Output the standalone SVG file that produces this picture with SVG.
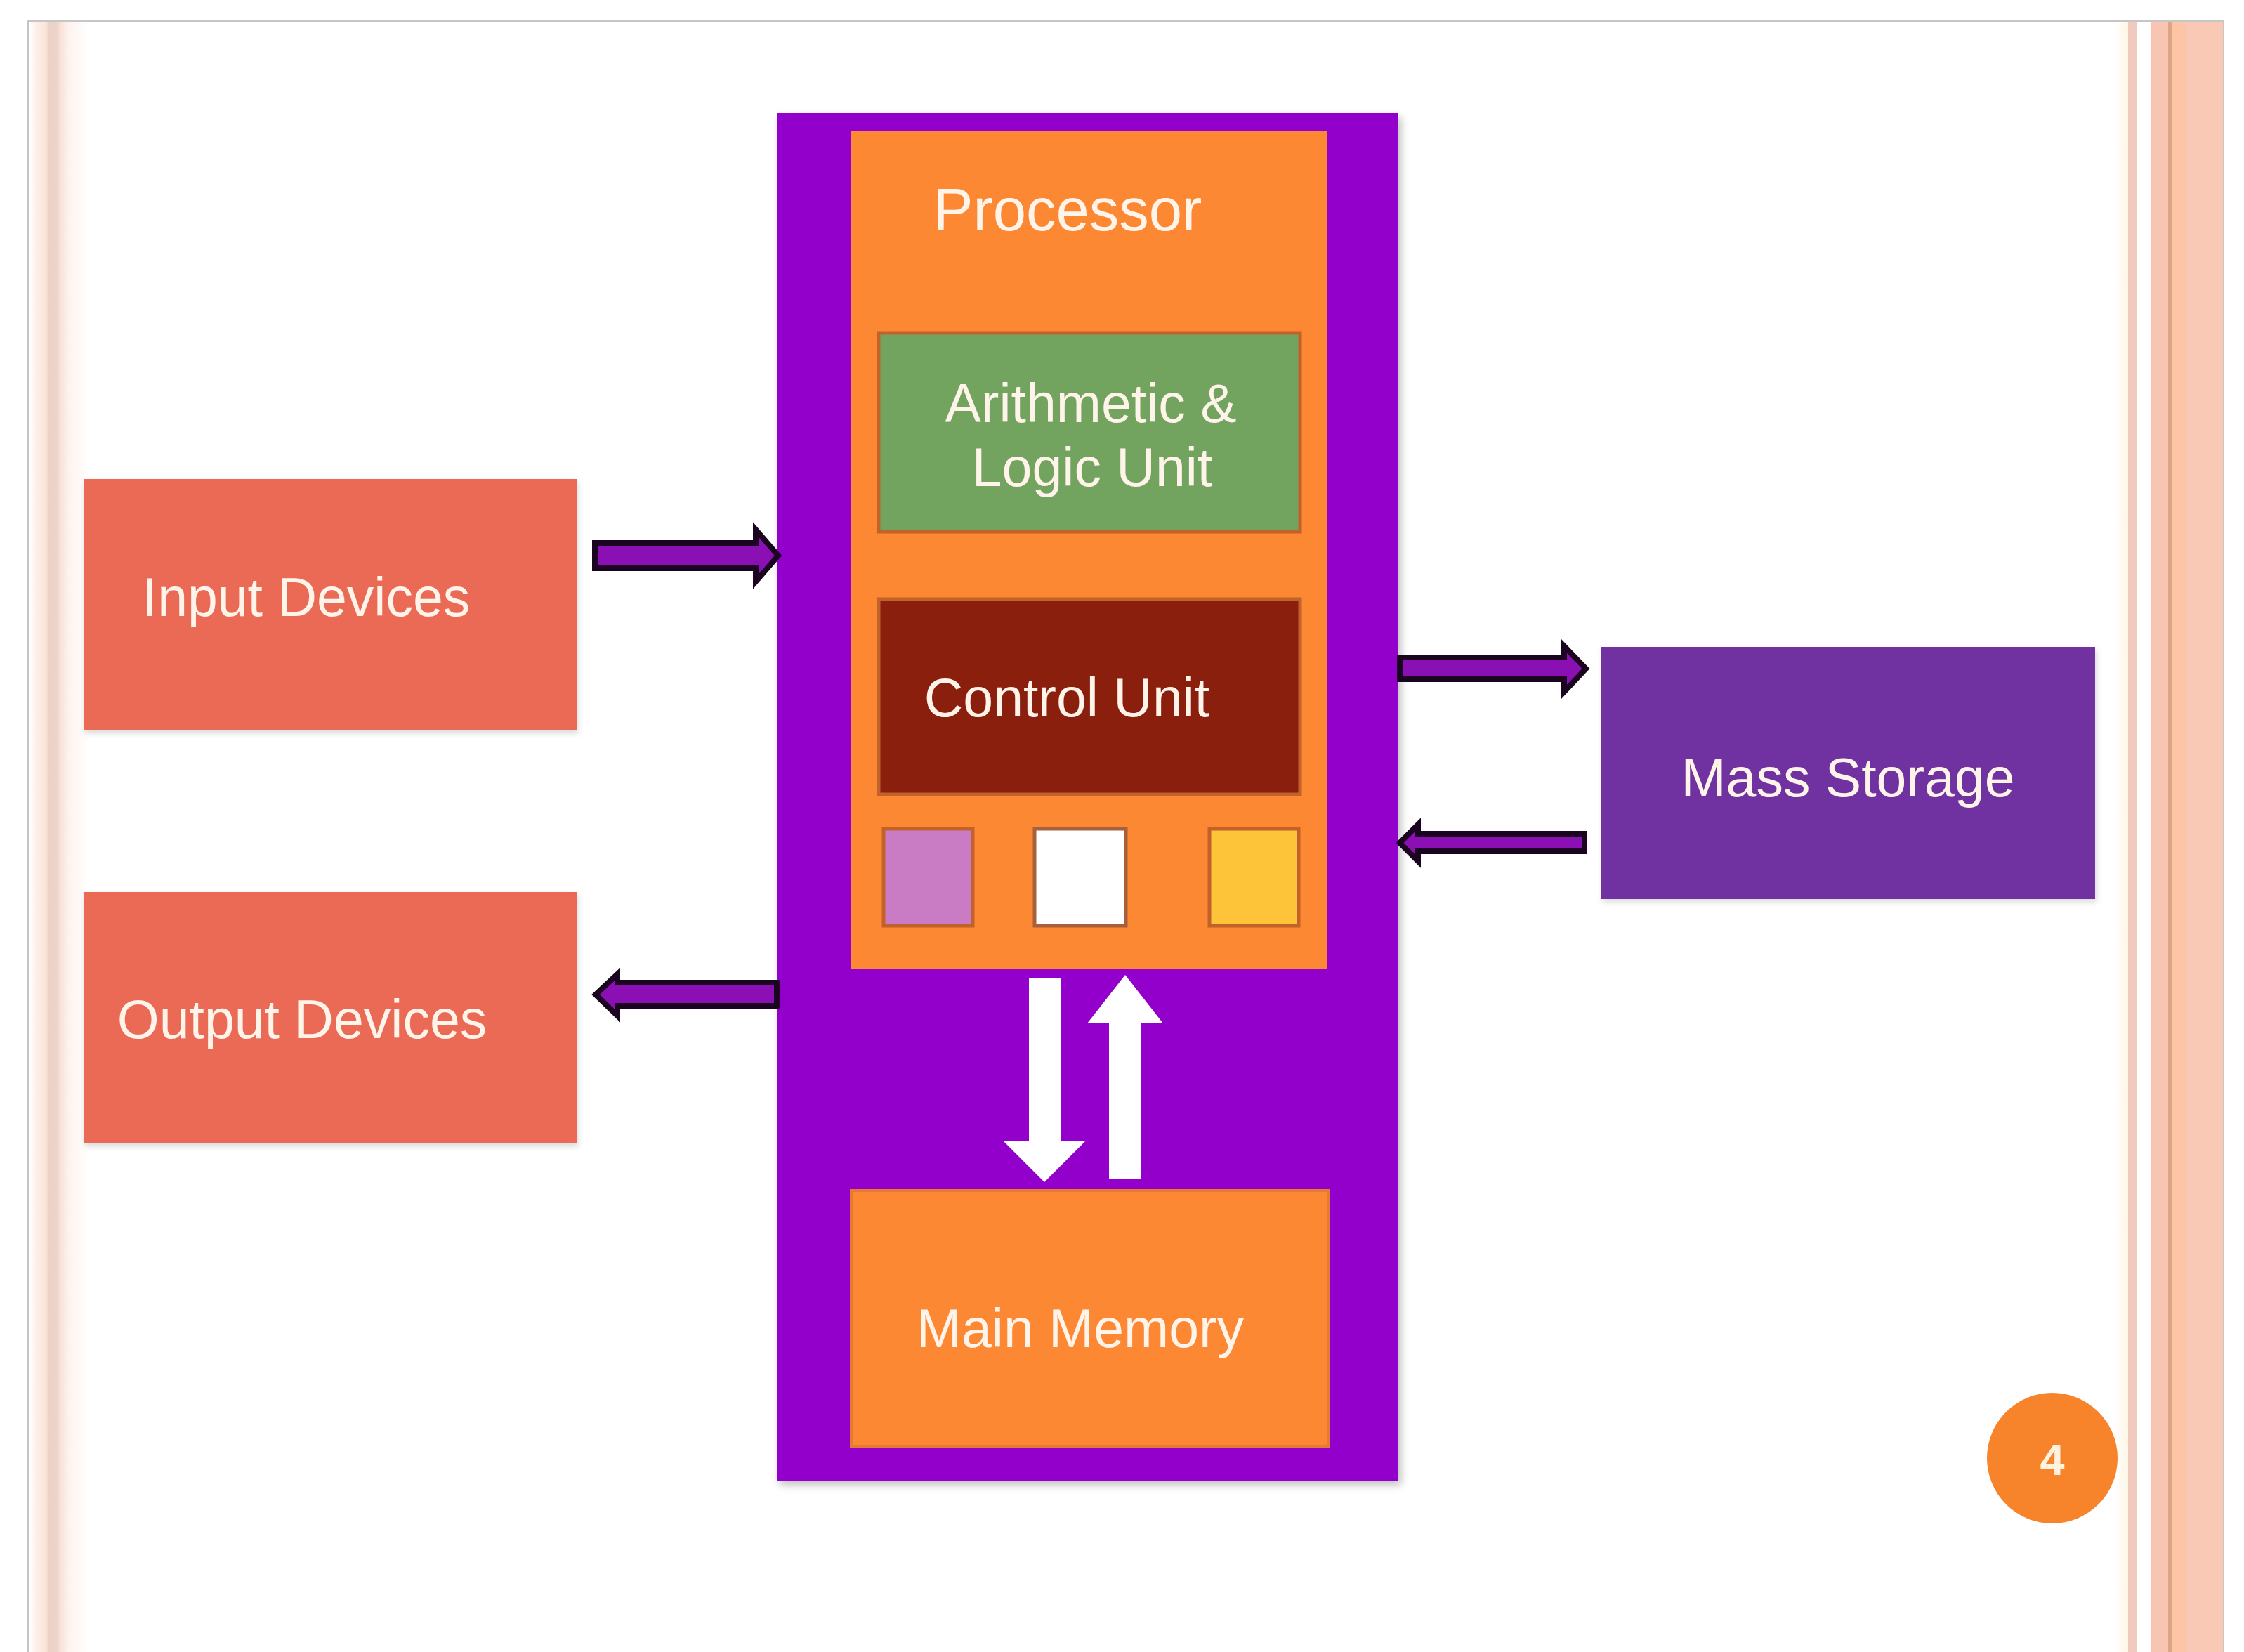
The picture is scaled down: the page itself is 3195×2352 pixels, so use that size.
<svg xmlns="http://www.w3.org/2000/svg" width="3195" height="2352" viewBox="0 0 3195 2352">
  <defs>
    <style>
      .lbl { font-family: "Liberation Sans", Arial, sans-serif; font-size: 77px; fill: #FFF4EA; text-anchor: middle; }
      .title { font-size: 85px; }
      .inner { stroke: #C3612B; stroke-width: 5; }
      .bus { fill: #8A10B4; stroke: #1A0420; stroke-width: 8; stroke-linejoin: miter; }
      .flow { fill: #FFFFFF; }
    </style>
    <linearGradient id="leftBand" x1="0" y1="0" x2="1" y2="0">
      <stop offset="0" stop-color="#FFFFFF"/>
      <stop offset="0.12" stop-color="#FDEEE6"/>
      <stop offset="0.28" stop-color="#FBE4DA"/>
      <stop offset="0.32" stop-color="#EBD2C6"/>
      <stop offset="0.45" stop-color="#EBD3C8"/>
      <stop offset="0.52" stop-color="#F8E1D7"/>
      <stop offset="0.65" stop-color="#FDF3EE"/>
      <stop offset="1" stop-color="#FFFFFF"/>
    </linearGradient>
    <linearGradient id="rightFade" x1="0" y1="0" x2="1" y2="0">
      <stop offset="0" stop-color="#FFFFFF"/>
      <stop offset="1" stop-color="#FFF6E6"/>
    </linearGradient>
    <filter id="shadow" x="-10%" y="-10%" width="120%" height="120%">
      <feDropShadow dx="4" dy="6" stdDeviation="6" flood-color="#000000" flood-opacity="0.25"/>
    </filter>
    <filter id="softShadow" x="-10%" y="-10%" width="120%" height="120%">
      <feDropShadow dx="2" dy="4" stdDeviation="4" flood-color="#000000" flood-opacity="0.15"/>
    </filter>
  </defs>

  <!-- page -->
  <rect x="0" y="0" width="3195" height="2352" fill="#FFFFFF"/>
  <g id="page-frame">
    <rect x="42" y="31" width="85" height="2321" fill="url(#leftBand)"/>
    <rect x="3010" y="31" width="20" height="2321" fill="url(#rightFade)"/>
    <rect x="3030" y="31" width="13" height="2321" fill="#F1CABF"/>
    <rect x="3063" y="31" width="24" height="2321" fill="#F9C5B3"/>
    <rect x="3087" y="31" width="6" height="2321" fill="#DFA483"/>
    <rect x="3093" y="31" width="20" height="2321" fill="#FCC6A6"/>
    <rect x="3113" y="31" width="53" height="2321" fill="#FAC9B6"/>
    <path d="M40 2352 V30 H3166 V2352" fill="none" stroke="#C6C6C6" stroke-width="2"/>
  </g>

  <!-- computer enclosure -->
  <g id="computer">
    <rect x="1106" y="161" width="885" height="1947" fill="#9300CB" filter="url(#shadow)"/>
  </g>

  <g id="processor">
    <rect x="1212" y="187" width="677" height="1192" fill="#FD8834"/>
    <text class="lbl title" x="1520" y="328">Processor</text>
  </g>

  <g id="alu">
    <rect class="inner" x="1251" y="474" width="600" height="283" fill="#72A460"/>
    <text class="lbl" x="1553" y="601">Arithmetic &amp;</text>
    <text class="lbl" x="1555" y="692">Logic Unit</text>
  </g>

  <g id="control-unit">
    <rect class="inner" x="1251" y="853" width="600" height="278" fill="#8A1F0E"/>
    <text class="lbl" x="1519" y="1020">Control Unit</text>
  </g>

  <g id="registers">
    <rect class="inner" x="1258" y="1180" width="127" height="138" fill="#C97CC3"/>
    <rect x="1473" y="1180" width="130" height="138" fill="#FFFFFF" stroke="#A8603A" stroke-width="5"/>
    <rect class="inner" x="1722" y="1180" width="127" height="138" fill="#FDC43A"/>
  </g>

  <g id="main-memory">
    <rect x="1212" y="1695" width="680" height="364" fill="#FD8834" stroke="#E57A30" stroke-width="4"/>
    <text class="lbl" x="1538" y="1918">Main Memory</text>
  </g>

  <g id="input-devices">
    <rect x="119" y="682" width="702" height="358" fill="#EA6A57" filter="url(#softShadow)"/>
    <text class="lbl" x="436" y="877">Input Devices</text>
  </g>

  <g id="output-devices">
    <rect x="119" y="1270" width="702" height="358" fill="#EA6A57" filter="url(#softShadow)"/>
    <text class="lbl" x="430" y="1478">Output Devices</text>
  </g>

  <g id="mass-storage">
    <rect x="2280" y="921" width="703" height="359" fill="#7030A0" filter="url(#softShadow)"/>
    <text class="lbl" x="2631" y="1134">Mass Storage</text>
  </g>

  <g id="page-number">
    <circle cx="2922" cy="2076" r="93" fill="#F7832A"/>
    <text x="2922" y="2100" font-family="Liberation Sans, Arial, sans-serif" font-size="63" font-weight="bold" fill="#FFF3E0" text-anchor="middle">4</text>
  </g>

  <!-- data paths -->
  <g id="connectors">
    <polygon class="bus" points="847,773 1076,773 1076,754 1108,791 1076,828 1076,809 847,809"/>
    <polygon class="bus" points="1106,1399 879,1399 879,1387 848,1416 879,1446 879,1432 1106,1432"/>
    <polygon class="bus" points="1993,936 2227,936 2227,920 2258,952 2227,985 2227,967 1993,967"/>
    <polygon class="bus" points="2256,1187 2019,1187 2019,1174 1993,1200 2019,1226 2019,1212 2256,1212"/>
    <polygon class="flow" points="1465,1392 1510,1392 1510,1624 1546,1624 1487,1683 1428,1624 1465,1624"/>
    <polygon class="flow" points="1602,1388 1656,1457 1625,1457 1625,1679 1579,1679 1579,1457 1548,1457"/>
  </g>
</svg>
